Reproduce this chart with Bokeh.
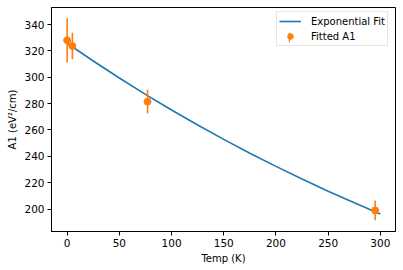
from bokeh.plotting import figure
from bokeh.models import Range1d, FixedTicker, Legend, LegendItem
from bokeh.embed import file_html
from bokeh.resources import INLINE

# Data
temp = [0, 5, 77, 295]
a1 = [328.0, 323.7, 281.5, 199.0]
a1_err = [16.8, 10.1, 9.0, 7.5]

fit_temp = [0, 25, 50, 75, 100, 125, 150, 175, 200, 225, 250, 275, 300]
fit_a1 = [325.8, 312.3, 299.4, 287.0, 275.2, 263.8, 252.9, 242.4, 232.4, 222.8, 213.6, 204.8, 196.3]

x_ticks = [0, 50, 100, 150, 200, 250, 300]
y_ticks = [200, 220, 240, 260, 280, 300, 320, 340]

FONT = "DejaVu Sans"
ORANGE = "#ff7f0e"
BLUE = "#1f77b4"

p = figure(width=403, height=270, output_backend="svg", toolbar_location=None,
           x_range=Range1d(-15, 314.5), y_range=Range1d(183, 352.9),
           min_border_left=51, min_border_right=8, min_border_top=7, min_border_bottom=39)
p.xgrid.visible = False
p.ygrid.visible = False
p.outline_line_color = "black"
p.outline_line_width = 1
p.outline_line_alpha = 1
p.background_fill_color = "white"
p.border_fill_color = "white"

for ax, ticks in ((p.xaxis, x_ticks), (p.yaxis, y_ticks)):
    ax.ticker = FixedTicker(ticks=ticks)
    ax.minor_tick_line_color = None
    ax.major_tick_in = 0
    ax.major_tick_out = 4
    ax.major_tick_line_color = "black"
    ax.axis_line_color = "black"
    ax.major_label_text_font = FONT
    ax.major_label_text_font_size = "10.5px"
    ax.major_label_text_color = "black"
    ax.axis_label_text_font = FONT
    ax.axis_label_text_font_size = "10px"
    ax.axis_label_text_font_style = "normal"
    ax.axis_label_text_color = "black"
    ax.major_label_standoff = 3
    ax.axis_label_standoff = 3

p.xaxis.axis_label = "Temp (K)"
p.yaxis.axis_label = "A1 (eV\u00b2/cm)"

line_r = p.line(fit_temp, fit_a1, line_color=BLUE, line_width=1.6)

lo = [v - e for v, e in zip(a1, a1_err)]
hi = [v + e for v, e in zip(a1, a1_err)]
p.segment(x0=temp, y0=lo, x1=temp, y1=hi, line_color=ORANGE, line_width=1.6)
pt_r = p.scatter(temp, a1, size=7, fill_color=ORANGE, line_color=ORANGE)
# legend-only renderer for the vertical error-bar symbol, placed far outside the view
bar_r = p.quad(left=[-1001], right=[-1000], bottom=[-1001], top=[-1000],
               fill_color=ORANGE, line_color=None)

legend = Legend(items=[LegendItem(label="Exponential Fit", renderers=[line_r]),
                       LegendItem(label="Fitted A1", renderers=[pt_r])],
                location=(225, 185))
legend.label_text_font = FONT
legend.label_text_font_size = "10px"
legend.label_text_color = "black"
legend.border_line_color = "#cccccc"
legend.border_line_width = 1
legend.background_fill_alpha = 0.8
legend.glyph_width = 22
legend.glyph_height = 14
legend.label_height = 14
legend.spacing = 1
legend.padding = 2
legend.margin = 0
legend.label_standoff = 10
p.add_layout(legend)

# overlay legend drawing only the thin vertical error-bar symbol at the second entry
bar_legend = Legend(items=[LegendItem(label=" ", renderers=[bar_r])],
                    location=(237, 188.3))
bar_legend.glyph_width = 2
bar_legend.glyph_height = 12
bar_legend.label_height = 12
bar_legend.label_text_font_size = "2px"
bar_legend.label_standoff = 0
bar_legend.padding = 0
bar_legend.margin = 0
bar_legend.spacing = 0
bar_legend.border_line_color = None
bar_legend.background_fill_color = None
bar_legend.background_fill_alpha = 0
p.add_layout(bar_legend)

open("out.html", "w").write(file_html(p, INLINE))
